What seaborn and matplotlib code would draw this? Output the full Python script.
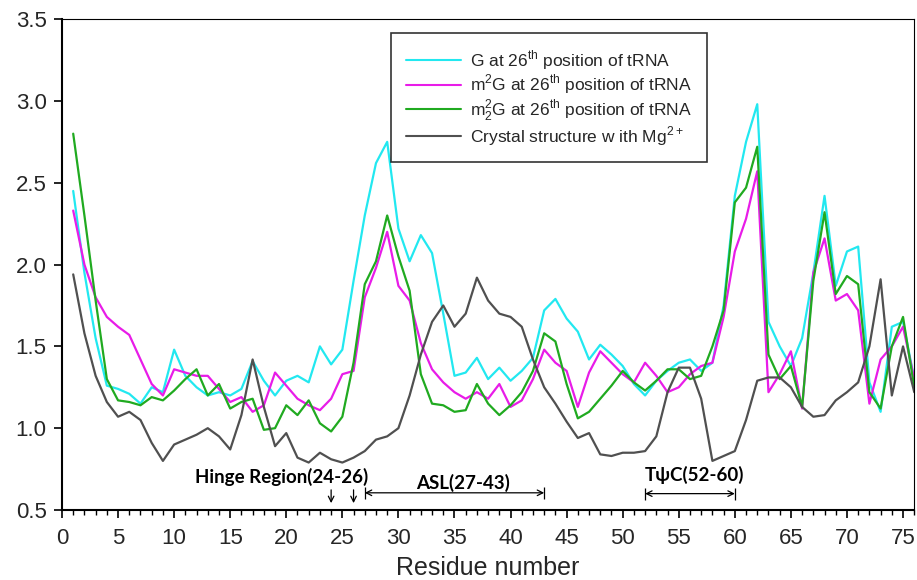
import numpy as np
import pandas as pd
import matplotlib
matplotlib.use("Agg")
import matplotlib.pyplot as plt
import seaborn as sns
from matplotlib.ticker import MultipleLocator

residues = list(range(1, 77))

g_26 = [2.45, 1.95, 1.55, 1.26, 1.24, 1.21, 1.15, 1.25, 1.22, 1.48,
        1.32, 1.25, 1.20, 1.22, 1.20, 1.24, 1.41, 1.29, 1.20, 1.29,
        1.32, 1.28, 1.50, 1.39, 1.48, 1.90, 2.30, 2.62, 2.75, 2.22,
        2.02, 2.18, 2.07, 1.70, 1.32, 1.34, 1.43, 1.30, 1.37, 1.29,
        1.35, 1.43, 1.72, 1.79, 1.67, 1.59, 1.42, 1.51, 1.45, 1.38,
        1.27, 1.20, 1.29, 1.35, 1.40, 1.42, 1.35, 1.40, 1.75, 2.42,
        2.75, 2.98, 1.65, 1.50, 1.38, 1.55, 1.95, 2.42, 1.87, 2.08,
        2.11, 1.28, 1.10, 1.62, 1.65, 1.30]

m2g_26 = [2.33, 2.00, 1.80, 1.68, 1.62, 1.57, 1.42, 1.27, 1.20, 1.36,
          1.34, 1.32, 1.32, 1.24, 1.16, 1.19, 1.10, 1.14, 1.34, 1.26,
          1.18, 1.14, 1.11, 1.18, 1.33, 1.35, 1.80, 1.98, 2.20, 1.87,
          1.78, 1.52, 1.36, 1.28, 1.22, 1.18, 1.22, 1.18, 1.27, 1.13,
          1.17, 1.30, 1.48, 1.40, 1.35, 1.13, 1.34, 1.47, 1.40, 1.33,
          1.28, 1.40, 1.32, 1.22, 1.25, 1.33, 1.38, 1.40, 1.68, 2.08,
          2.28, 2.57, 1.22, 1.33, 1.47, 1.12, 1.95, 2.16, 1.78, 1.82,
          1.72, 1.15, 1.42, 1.50, 1.62, 1.30]

m22g_26 = [2.80, 2.30, 1.78, 1.30, 1.17, 1.16, 1.14, 1.19, 1.17, 1.23,
           1.30, 1.36, 1.20, 1.27, 1.12, 1.16, 1.18, 0.99, 1.00, 1.14,
           1.08, 1.17, 1.03, 0.98, 1.07, 1.40, 1.88, 2.02, 2.30, 2.05,
           1.84, 1.33, 1.15, 1.14, 1.10, 1.11, 1.27, 1.15, 1.08, 1.14,
           1.22, 1.35, 1.58, 1.53, 1.27, 1.06, 1.10, 1.18, 1.26, 1.35,
           1.28, 1.23, 1.29, 1.36, 1.36, 1.30, 1.32, 1.50, 1.72, 2.38,
           2.47, 2.72, 1.45, 1.30, 1.38, 1.13, 1.90, 2.32, 1.82, 1.93,
           1.88, 1.22, 1.12, 1.50, 1.68, 1.25]

crystal_mg = [1.94, 1.58, 1.32, 1.16, 1.07, 1.10, 1.05, 0.91, 0.80, 0.90,
              0.93, 0.96, 1.00, 0.95, 0.87, 1.08, 1.42, 1.13, 0.89, 0.97,
              0.82, 0.79, 0.85, 0.81, 0.79, 0.82, 0.86, 0.93, 0.95, 1.00,
              1.20, 1.45, 1.65, 1.75, 1.62, 1.70, 1.92, 1.78, 1.70, 1.68,
              1.62, 1.42, 1.25, 1.15, 1.04, 0.94, 0.97, 0.84, 0.83, 0.85,
              0.85, 0.86, 0.95, 1.22, 1.37, 1.37, 1.18, 0.80, 0.83, 0.86,
              1.05, 1.29, 1.31, 1.31, 1.25, 1.13, 1.07, 1.08, 1.17, 1.22,
              1.28, 1.50, 1.91, 1.20, 1.50, 1.22]

series_labels = [
    r"G at 26$^{\rm th}$ position of tRNA",
    r"m$^{\rm 2}$G at 26$^{\rm th}$ position of tRNA",
    r"m$^{\rm 2}_{\rm 2}$G at 26$^{\rm th}$ position of tRNA",
    r"Crystal structure w ith Mg$^{\rm 2+}$",
]
series_values = [g_26, m2g_26, m22g_26, crystal_mg]
colors = ["#22e8f0", "#e81ce8", "#20aa20", "#505050"]

rows = []
for lab, vals in zip(series_labels, series_values):
    for r, v in zip(residues, vals):
        rows.append({"Residue": r, "Value": v, "Series": lab})
df = pd.DataFrame(rows)

sns.set_style("white")
plt.rcParams["font.family"] = ["Liberation Sans", "DejaVu Sans"]
plt.rcParams["mathtext.fontset"] = "custom"
plt.rcParams["mathtext.rm"] = "Liberation Sans"

fig = plt.figure(figsize=(9.17, 5.8), dpi=100)
ax = fig.add_axes([0.0676, 0.1207, 0.9294, 0.8463])

sns.lineplot(data=df, x="Residue", y="Value", hue="Series",
             hue_order=series_labels, palette=colors, ax=ax,
             linewidth=1.6, legend=True)

ax.set_xlim(0, 76)
ax.set_ylim(0.5, 3.5)
ax.xaxis.set_major_locator(MultipleLocator(5))
ax.xaxis.set_minor_locator(MultipleLocator(1))
ax.yaxis.set_major_locator(MultipleLocator(0.5))
ax.yaxis.set_major_formatter(matplotlib.ticker.FormatStrFormatter("%.1f"))
ax.tick_params(axis="both", which="major", direction="out", length=6,
               width=1.2, labelsize=16, color="black", bottom=True, left=True)
ax.tick_params(axis="x", which="major", pad=7)
ax.tick_params(axis="y", which="major", pad=5)
ax.tick_params(axis="x", which="minor", direction="out", length=3.5,
               width=1.0, color="black", bottom=True)
for side in ["left", "bottom"]:
    ax.spines[side].set_color("black")
    ax.spines[side].set_linewidth(1.5)
for side in ["top", "right"]:
    ax.spines[side].set_color("black")
    ax.spines[side].set_linewidth(0.8)

ax.set_xlabel("Residue number", fontsize=18)
ax.xaxis.set_label_coords(0.5, -0.118)
ax.xaxis.label.set_va("center")
ax.set_ylabel("")

leg = ax.legend(loc="upper left", bbox_to_anchor=(0.386, 0.971),
                borderaxespad=0, fontsize=12.5, frameon=True, fancybox=False,
                edgecolor="black", borderpad=0.85, handlelength=3.2,
                handletextpad=0.5, labelspacing=0.06)
leg.get_frame().set_linewidth(1.2)
for h in leg.get_lines():
    h.set_linewidth(1.5)

ann_font = dict(fontfamily=["Lato", "DejaVu Sans"], fontweight="bold",
                fontsize=13.5, color="black")
ax.text(19.6, 0.70, "Hinge Region(24-26)", ha="center", va="center", **ann_font)
for xr in [24, 26]:
    ax.annotate("", xy=(xr, 0.525), xytext=(xr, 0.64),
                arrowprops=dict(arrowstyle="->", color="black", lw=0.9))

regions = [(27, 43, 0.605, "ASL(27-43)", 35.8, 0.665),
           (52, 60, 0.60, "TψC(52-60)", 56.4, 0.715)]
for x0, x1, ya, lab, xt, yt in regions:
    ax.text(xt, yt, lab, ha="center", va="center", **ann_font)
    ax.annotate("", xy=(x0, ya), xytext=(x1, ya),
                arrowprops=dict(arrowstyle="<->", color="black", lw=0.9,
                                shrinkA=0, shrinkB=0, mutation_scale=10))
    ax.vlines([x0, x1], ya - 0.04, ya + 0.035, color="black", lw=0.9)

fig.savefig("out.png", dpi=100)
